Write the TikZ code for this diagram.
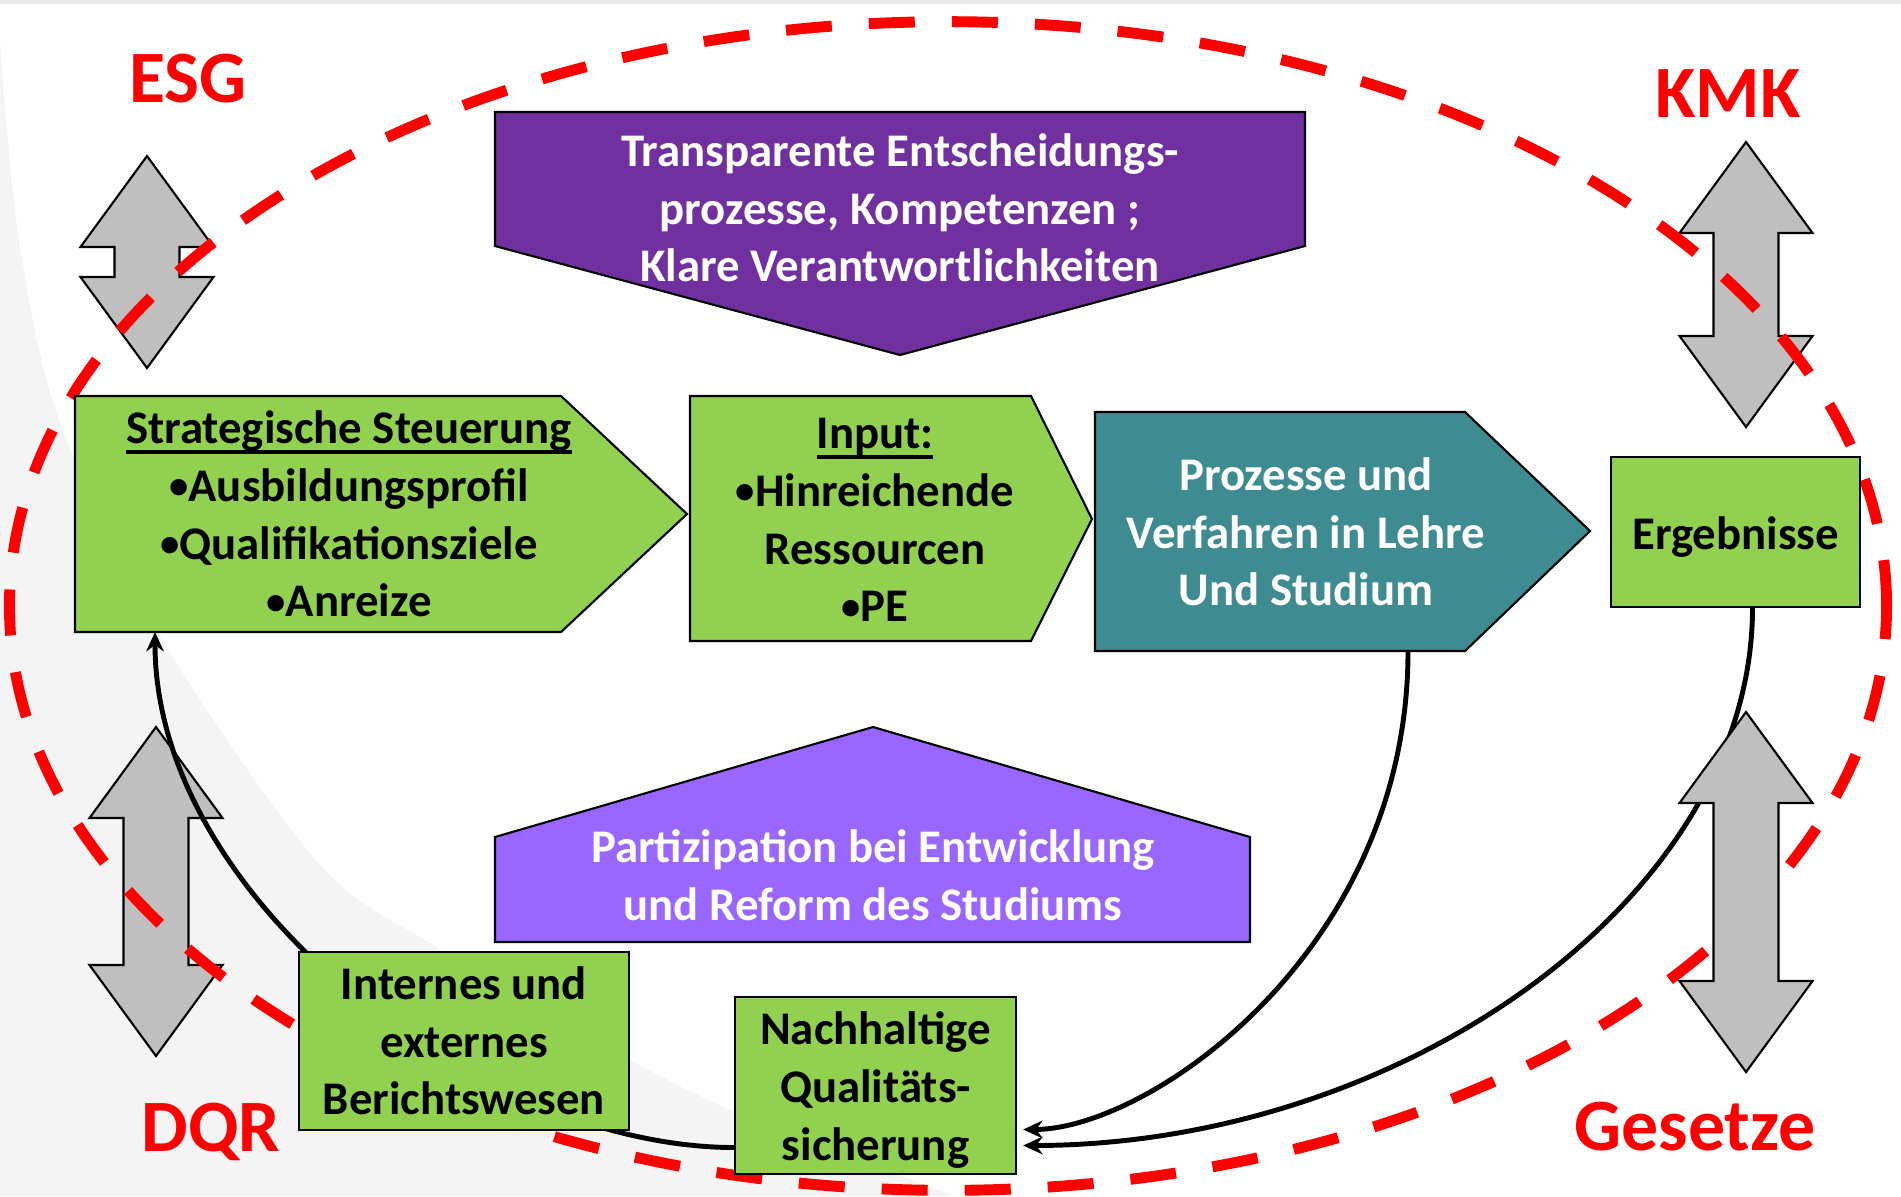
\documentclass[tikz,border=0pt]{standalone}
\usepackage{fontspec}
\setmainfont{Carlito}
\usetikzlibrary{arrows.meta, calc}
\definecolor{boxgreen}{HTML}{92D050}
\definecolor{darkpurple}{HTML}{7030A0}
\definecolor{lightpurple}{HTML}{9966FF}
\definecolor{processteal}{HTML}{3E8B91}
\definecolor{arrowgray}{HTML}{BFBFBF}
\definecolor{ringred}{HTML}{FF0000}
\definecolor{bggray}{HTML}{F4F4F4}
\definecolor{topgray}{HTML}{E7E7E7}
\newcommand{\ulthick}[1]{\setbox0\hbox{#1}\leavevmode\rlap{\rule[-2.8pt]{\wd0}{0.9pt}}\box0}
\newcommand{\bul}{\raisebox{0.7pt}{\fontsize{11}{12}\selectfont•}}
\newcommand{\lowered}[1]{\raisebox{-1.5pt}[\height][\depth]{#1}}

\begin{document}
\begin{tikzpicture}[
    x=0.01cm, y=-0.01cm,
    block/.style={draw=black, line width=0.6pt},
    txt/.style={font=\bfseries\fontsize{13.3}{16.4}\selectfont, align=center},
    greenbox/.style={rectangle, draw=black, line width=0.6pt, fill=boxgreen, inner sep=0pt, txt},
    redlabel/.style={text=ringred, font=\bfseries\fontsize{21}{25}\selectfont, anchor=base},
    dblarrow/.style={draw=black, line width=0.6pt, fill=arrowgray},
    ring/.style={draw=ringred, line width=3.1pt, dash pattern=on 0.46cm off 0.37cm},
    link/.style={-{Stealth[length=5.5pt, width=5pt]}, line width=1.4pt}
]
\useasboundingbox (0,0) rectangle (1901,1196);

% Background
\fill[topgray] (0,0) rectangle (1901,4);
\fill[bggray] plot[smooth] coordinates {(0,40) (18,233) (58,417) (161,638) (321,866) (442,950) (603,1045) (737,1113) (955,1196)} -- (0,1196) -- cycle;

% Double arrows ESG, KMK, DQR
\draw[dblarrow] (147,156) -- (213.5,247) -- (179.5,247) -- (179.5,277) -- (213.5,277) -- (147,368) -- (80.5,277) -- (114.5,277) -- (114.5,247) -- (80.5,247) -- cycle;
\draw[dblarrow] (1746,142) -- (1812.5,233) -- (1778.5,233) -- (1778.5,336) -- (1812.5,336) -- (1746,427) -- (1679.5,336) -- (1713.5,336) -- (1713.5,233) -- (1679.5,233) -- cycle;
\draw[dblarrow] (156,727) -- (222.5,818) -- (188.5,818) -- (188.5,965) -- (222.5,965) -- (156,1056) -- (89.5,965) -- (123.5,965) -- (123.5,818) -- (89.5,818) -- cycle;

% Dashed ring
\draw[ring] (948,606) ellipse [x radius=9.38cm, y radius=5.84cm];

% Top: Transparenz
\draw[block, fill=darkpurple] (495,112) -- (1305,112) -- (1305,246) -- (900,355) -- (495,246) -- cycle;
\node[txt, text=white] (transp) at (900,208) {Transparente Entscheidungs-\\prozesse, Kompetenzen ;\\Klare Verantwortlichkeiten};

% Row: Steuerung -> Input -> Prozesse -> Ergebnisse
\draw[block, fill=boxgreen] (75,396) -- (561,396) -- (687,514) -- (561,632) -- (75,632) -- cycle;
\node[txt] (strat) at (349,514) {\ulthick{Strategische Steuerung}\\\bul Ausbildungsprofil\\\bul Qualifikationsziele\\\bul Anreize};
\coordinate (strat-in) at (155,632);

\draw[block, fill=boxgreen] (690,396) -- (1031,396) -- (1092,519) -- (1031,641) -- (690,641) -- cycle;
\node[txt] (input) at (875,520) {\ulthick{Input:}\\\bul Hinreichende\\Ressourcen\\\bul PE};

\draw[block, fill=processteal] (1095,412) -- (1465,412) -- (1590,531) -- (1465,651) -- (1095,651) -- cycle;
\node[txt, text=white] (proz) at (1306,532) {Prozesse und\\Verfahren in Lehre\\Und Studium};
\coordinate (proz-out) at (1408,651);

\node[greenbox, minimum width=2.49cm, minimum height=1.50cm] (erg) at (1735.5,532) {\lowered{Ergebnisse}};

% Partizipation
\draw[block, fill=lightpurple] (495,942) -- (495,837) -- (873,727) -- (1250,837) -- (1250,942) -- cycle;
\node[txt, text=white] (partiz) at (873,875) {Partizipation bei Entwicklung\\und Reform des Studiums};

% Qualitaetssicherung
\node[greenbox, minimum width=2.81cm, minimum height=1.77cm] (nach) at (875.5,1085.5) {\lowered{\begin{tabular}{@{}c@{}}Nachhaltige\\Qualitäts-\\sicherung\end{tabular}}};

% Connections
\draw[link] ($(nach.west)+(0,62)$) .. controls (480,1147) and (155,900) .. (strat-in);
\draw[link] (proz-out) .. controls (1408,950) and (1150,1129) .. ($(nach.east)+(6,44)$);
\draw[link] ($(erg.south)+(17,0)$) .. controls (1752,900) and (1400,1145) .. ($(nach.east)+(6,60)$);

% Double arrow Gesetze (over ring and line)
\draw[dblarrow] (1746,712) -- (1812.5,803) -- (1778.5,803) -- (1778.5,981) -- (1812.5,981) -- (1746,1072) -- (1679.5,981) -- (1713.5,981) -- (1713.5,803) -- (1679.5,803) -- cycle;

% Berichtswesen (over the feedback line)
\node[greenbox, minimum width=3.30cm, minimum height=1.78cm] (bericht) at (464,1041) {Internes und\\externes\\Berichtswesen};

% Frame labels
\node[redlabel] (esg) at (188,102) {ESG};
\node[redlabel] (kmk) at (1728,117) {KMK};
\node[redlabel] (dqr) at (211,1151) {DQR};
\node[redlabel] (gesetze) at (1695,1150) {Gesetze};

\end{tikzpicture}
\end{document}
